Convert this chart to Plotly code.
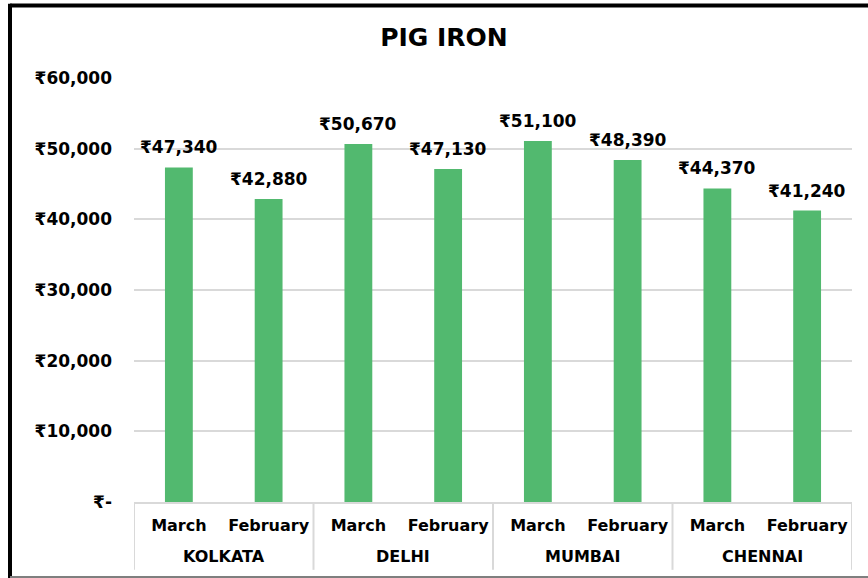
import plotly.graph_objects as go

cities = ["KOLKATA", "KOLKATA", "DELHI", "DELHI", "MUMBAI", "MUMBAI", "CHENNAI", "CHENNAI"]
months = ["March", "February", "March", "February", "March", "February", "March", "February"]
prices = [47340, 42880, 50670, 47130, 51100, 48390, 44370, 41240]
ytick_vals = [0, 10000, 20000, 30000, 40000, 50000, 60000]
ytick_text = ["₹-", "₹10,000", "₹20,000", "₹30,000", "₹40,000", "₹50,000", "₹60,000"]

FONT = "DejaVu Sans, Liberation Sans, Arial, sans-serif"
GRID = "#d9d9d9"

keys = [f"{c} {m}" for c, m in zip(cities, months)]

fig = go.Figure(go.Bar(
    x=keys,
    y=prices,
    marker=dict(color="#52b96f", line=dict(width=0)),
    width=0.31,
    hovertemplate="%{y}<extra></extra>",
))

# value labels above bars
for k, v in zip(keys, prices):
    fig.add_annotation(x=k, y=v, xref="x", yref="y", text="₹{:,}".format(v),
                       showarrow=False, yanchor="bottom", yshift=8,
                       font=dict(family=FONT, size=17, color="#000000", weight="bold"))

fig.update_layout(
    width=868, height=578,
    margin=dict(l=134, r=16, t=78, b=76),
    paper_bgcolor="white", plot_bgcolor="white",
    showlegend=False,
    title=dict(text="PIG IRON", x=0.5115, xref="container", xanchor="center",
               y=0.935, yanchor="middle",
               font=dict(family=FONT, size=25, color="#000000", weight="bold")),
    font=dict(family=FONT, color="#000000"),
    xaxis=dict(
        type="category",
        range=[-0.5, len(keys) - 0.5],
        tickvals=keys, ticktext=months,
        showline=True, linecolor=GRID, linewidth=2,
        showgrid=False,
        tickfont=dict(family=FONT, size=16, color="#000000", weight="bold"),
        ticks="",
        ticklabelstandoff=8,
    ),
    yaxis=dict(
        range=[0, 60000],
        tickvals=ytick_vals, ticktext=ytick_text,
        showgrid=True, gridcolor=GRID, gridwidth=1.5,
        zeroline=False, showline=False,
        tickfont=dict(family=FONT, size=17, color="#000000", weight="bold"),
        ticklabelstandoff=21,
    ),
)

# group labels and dividers
groups = []
for i, c in enumerate(cities):
    if groups and groups[-1][0] == c:
        groups[-1][2] = i
    else:
        groups.append([c, i, i])
bounds = set()
for c, a, b in groups:
    fig.add_annotation(x=(a + b) / 2, y=-0.1297, xref="x", yref="paper",
                       text=c, showarrow=False, yanchor="middle",
                       font=dict(family=FONT, size=16, color="#000000", weight="bold"))
    bounds.add(a - 0.5)
    bounds.add(b + 0.5)
for xb in sorted(bounds):
    fig.add_shape(type="line", xref="x", yref="paper", x0=xb, x1=xb, y0=0, y1=-0.160,
                  line=dict(color=GRID, width=2))

# chart frame
fig.add_shape(type="line", xref="paper", yref="paper",
              x0=-0.1727, x1=-0.1727, y0=1.175, y1=-0.18,
              line=dict(color="#000000", width=4))
fig.add_shape(type="line", xref="paper", yref="paper",
              x0=-0.1727, x1=1.05, y0=1.171, y1=1.171,
              line=dict(color="#000000", width=4))
fig.add_shape(type="line", xref="paper", yref="paper",
              x0=-0.1727, x1=1.05, y0=-0.177, y1=-0.177,
              line=dict(color="#7f7f7f", width=2))

fig.write_html("out.html", config={"displayModeBar": False},
               post_script="document.body.style.margin='0';")
